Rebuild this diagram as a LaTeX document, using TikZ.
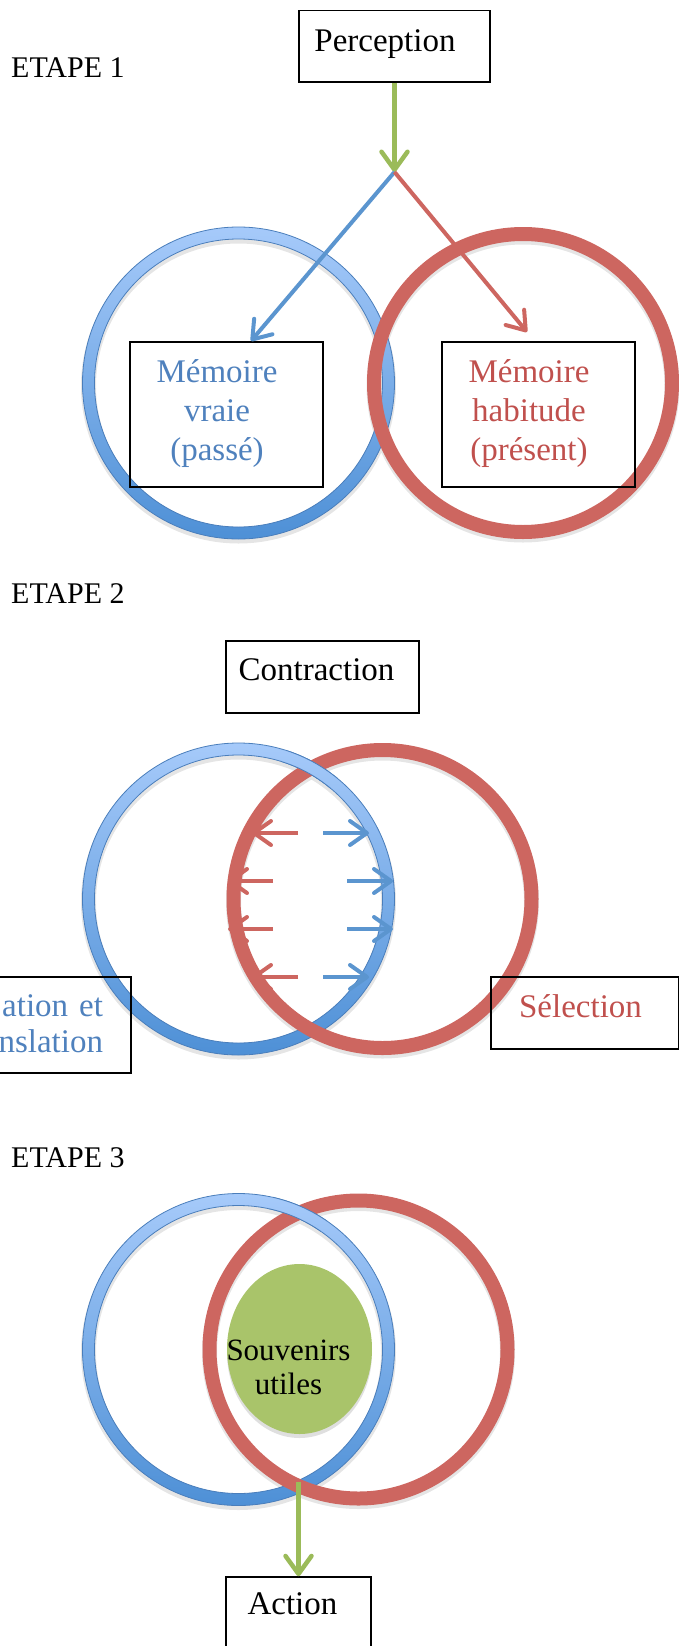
\documentclass[tikz,border=0pt]{standalone}
\usepackage{fontspec}
\setmainfont{Liberation Serif}
\usetikzlibrary{shapes.geometric,arrows.meta,shadows}
\definecolor{ringtop}{RGB}{166,202,250}
\definecolor{ringbot}{RGB}{78,144,214}
\definecolor{ringedge}{RGB}{74,126,187}
\definecolor{ringred}{RGB}{205,102,96}
\definecolor{arrowblue}{RGB}{91,149,207}
\definecolor{textblue}{RGB}{79,129,189}
\definecolor{textred}{RGB}{192,80,77}
\definecolor{souvgreen}{RGB}{169,196,106}
\definecolor{arrowgreen}{RGB}{155,187,89}

\begin{document}
\begin{tikzpicture}[x=1pt,y=-1pt]
\tikzstyle{every node}=[font=\fontsize{33}{39}\selectfont]
\tikzstyle{etape}=[anchor=base west, inner sep=0pt, font=\fontsize{30}{36}\selectfont]
\tikzstyle{box}=[rectangle, draw=black, line width=1.6pt, inner sep=0pt]
\tikzstyle{ringshadow}=[draw=black, opacity=0.1, line width=15pt]
\tikzstyle{bluering}=[top color=ringtop, bottom color=ringbot, even odd rule, draw=ringedge, line width=0.8pt]
\tikzstyle{redring}=[draw=ringred, line width=14pt]
\tikzstyle{greenarrow}=[draw=arrowgreen, line width=4.5pt, -{Straight Barb[length=18pt,width=26pt,round]}]
\tikzstyle{bluearrow}=[draw=arrowblue, line width=4pt, -{Straight Barb[length=17pt,width=24pt,round]}]
\tikzstyle{redarrow}=[draw=ringred, line width=4pt, -{Straight Barb[length=17pt,width=24pt,round]}]
\useasboundingbox (0,0) rectangle (679,1646);

% ETAPE 1
\node[etape] (et_1) at (11,77.5) {ETAPE 1};
\coordinate (blue_1) at (238.5,383);
\coordinate (red_1) at (523,383);
\draw[ringshadow] ([yshift=-3pt]blue_1) circle (150pt) ([yshift=-3pt]red_1) circle (149pt);
\path[bluering] (blue_1) circle (156pt) (blue_1) circle (144pt);
\draw[redring] (red_1) circle (149pt);
	\node[box, minimum width=191pt, minimum height=71.5pt] (perc) at (394.5,46.25) [label={[xshift=-9.5pt,yshift=2pt]center:Perception}]{};
	\node[box, minimum width=193pt, minimum height=145pt] (mv) at (226.5,414.5) [label={[xshift=-9.5pt,yshift=1pt,align=center,text=textblue]center:{Mémoire\\vraie\\(passé)}}]{};
	\node[box, minimum width=193pt, minimum height=145pt] (mh) at (538.5,414.5) [label={[xshift=-9.5pt,yshift=1pt,align=center,text=textred]center:{Mémoire\\habitude\\(présent)}}]{};
	\coordinate (split) at (394.5,172);
	\coordinate (mv_in) at (251,341);
	\coordinate (mh_in) at (527,332);

	\path
		(perc) edge [greenarrow] (split)
		(split) edge [bluearrow] (mv_in)
		(split) edge [redarrow] (mh_in);

% ETAPE 2
\node[etape] (et_2) at (11,603) {ETAPE 2};
\coordinate (blue_2) at (238.5,899);
\coordinate (red_2) at (382.5,899);
\draw[ringshadow] ([yshift=-3pt]blue_2) circle (150pt) ([yshift=-3pt]red_2) circle (149pt);
\path[bluering] (blue_2) circle (156pt) (blue_2) circle (144pt);
\draw[redring] (red_2) circle (149pt);
\begin{scope}
\clip (310.5,767) circle (30pt);
\path[bluering] (blue_2) circle (156pt) (blue_2) circle (144pt);
\end{scope}
	\node[box, minimum width=193pt, minimum height=72pt] (contr) at (322.5,677) [label={[xshift=-6pt,yshift=7pt]center:Contraction}]{};
	\node[box, minimum width=191pt, minimum height=96pt] (rot) at (35.5,1025) [label={[yshift=1pt,text width=135pt,align=right,text=textblue,font=\fontsize{33}{36}\selectfont]center:{ation et\\nslation}}]{};
	\node[box, minimum width=188pt, minimum height=72pt] (sel) at (585,1013) [label={[xshift=-4.5pt,yshift=7pt,text=textred]center:Sélection}]{};
	\coordinate (rs_1) at (298,833);
	\coordinate (rt_1) at (252,833);
	\coordinate (rs_2) at (273,881);
	\coordinate (rt_2) at (228,881);
	\coordinate (rs_3) at (273,929);
	\coordinate (rt_3) at (228,929);
	\coordinate (rs_4) at (298,977);
	\coordinate (rt_4) at (252,977);
	\coordinate (bs_1) at (323,833);
	\coordinate (bt_1) at (369,833);
	\coordinate (bs_2) at (347,881);
	\coordinate (bt_2) at (393,881);
	\coordinate (bs_3) at (347,929);
	\coordinate (bt_3) at (393,929);
	\coordinate (bs_4) at (323,977);
	\coordinate (bt_4) at (369,977);

	\path
		(rs_1) edge [redarrow] (rt_1)
		(rs_2) edge [redarrow] (rt_2)
		(rs_3) edge [redarrow] (rt_3)
		(rs_4) edge [redarrow] (rt_4)
		(bs_1) edge [bluearrow] (bt_1)
		(bs_2) edge [bluearrow] (bt_2)
		(bs_3) edge [bluearrow] (bt_3)
		(bs_4) edge [bluearrow] (bt_4);

% ETAPE 3
\node[etape] (et_3) at (11,1167) {ETAPE 3};
\coordinate (blue_3) at (238.5,1349.5);
\coordinate (red_3) at (358.5,1349.5);
\draw[ringshadow] ([yshift=-3pt]blue_3) circle (150pt) ([yshift=-3pt]red_3) circle (149pt);
\path[bluering] (blue_3) circle (156pt) (blue_3) circle (144pt);
\draw[redring] (red_3) circle (149pt);
\begin{scope}
\clip (298.5,1212) circle (30pt);
\path[bluering] (blue_3) circle (156pt) (blue_3) circle (144pt);
\end{scope}
	\node[ellipse, fill=souvgreen, minimum width=145pt, minimum height=170pt, inner sep=0pt, drop shadow={shadow xshift=0pt,shadow yshift=-4pt,opacity=0.25}] (souv) at (299.5,1349) [label={[xshift=-11pt,yshift=-18.5pt,align=center,font=\fontsize{31}{34}\selectfont]center:{Souvenirs\\utiles}}]{};
	\node[box, minimum width=145pt, minimum height=72pt] (act) at (298.5,1613) [label={[xshift=-6pt,yshift=9pt]center:Action}]{};
	\coordinate (cross_3) at (298.5,1482);

	\path
		(cross_3) edge [greenarrow] (act);

\end{tikzpicture}
\end{document}
